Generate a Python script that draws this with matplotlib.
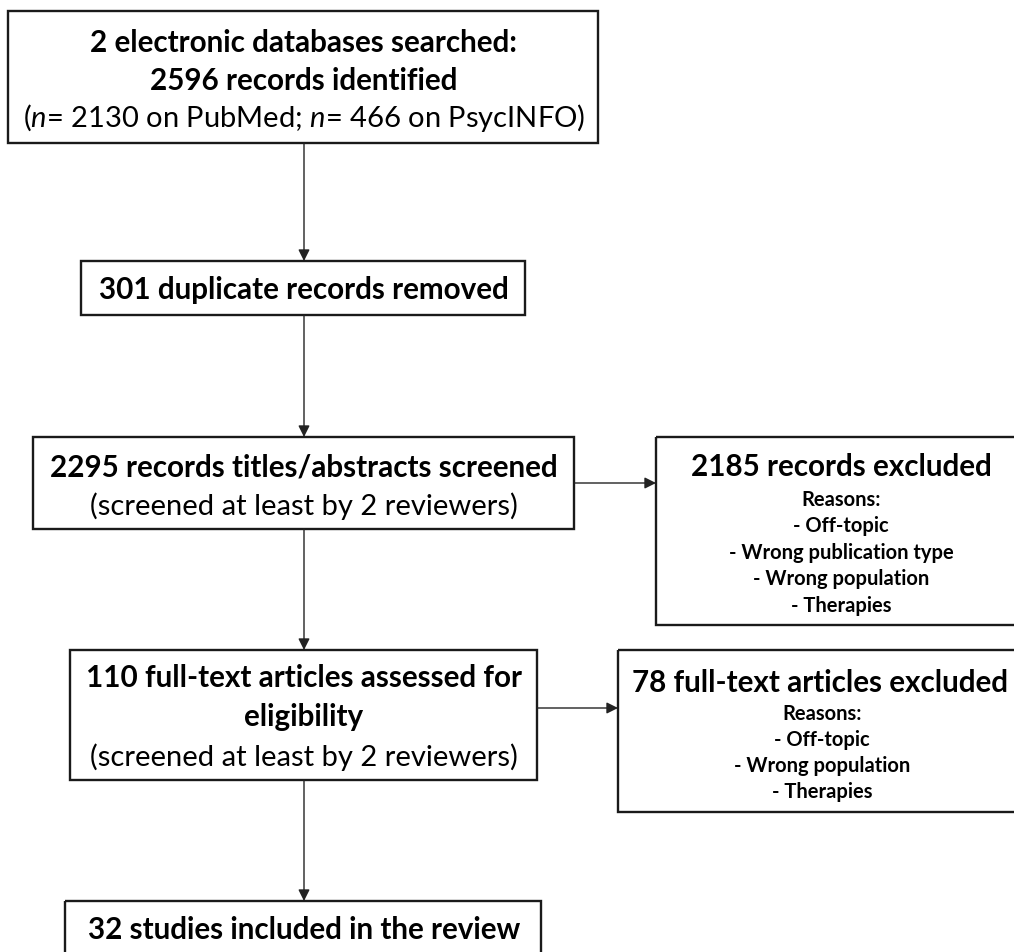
import matplotlib.pyplot as plt
from matplotlib.patches import Rectangle

plt.rcParams['font.family'] = ['Lato', 'DejaVu Sans']
plt.rcParams['mathtext.fontset'] = 'custom'
plt.rcParams['mathtext.rm'] = 'Lato'
plt.rcParams['mathtext.it'] = 'Lato:italic'

# box texts (title lines are bold, sub lines regular)
search_title = ["2 electronic databases searched:", "2596 records identified"]
search_sub = r"($\mathit{n}$= 2130 on PubMed; $\mathit{n}$= 466 on PsycINFO)"
dup_title = "301 duplicate records removed"
screen_title = "2295 records titles/abstracts screened"
screen_sub = "(screened at least by 2 reviewers)"
excl1_title = "2185 records excluded"
excl1_reasons = ["Reasons:", "- Off-topic", "- Wrong publication type",
                 "- Wrong population", "- Therapies"]
full_title = ["110 full-text articles assessed for", "eligibility"]
full_sub = "(screened at least by 2 reviewers)"
excl2_title = "78 full-text articles excluded"
excl2_reasons = ["Reasons:", "- Off-topic", "- Wrong population", "- Therapies"]
incl_title = "32 studies included in the review"

W, H = 1014, 953
fig = plt.figure(figsize=(W / 100, H / 100), dpi=100)
ax = fig.add_axes([0, 0, 1, 1])
ax.set_xlim(0, W)
ax.set_ylim(H, 0)
ax.axis("off")

BIG = 21.3
REG = 21
SMALL = 14.5


def box(x0, y0, x1, y1):
    ax.add_patch(Rectangle((x0, y0), x1 - x0, y1 - y0, fill=False,
                           edgecolor="#1a1a1a", lw=1.7, clip_on=True))


def arrow(x0, y0, x1, y1):
    ax.annotate("", xy=(x1, y1), xytext=(x0, y0),
                arrowprops=dict(arrowstyle="-|>", color="#222222", lw=1.0,
                                mutation_scale=17, shrinkA=0, shrinkB=0))


def txt(x, y, s, size=BIG, bold=True):
    ax.text(x, y, s, ha="center", va="center", fontsize=size,
            fontweight="bold" if bold else "normal", color="black")


cx = 304

# box 1
box(8, 12, 598, 144)
txt(cx, 43, search_title[0])
txt(cx, 81, search_title[1])
txt(cx, 118, search_sub, size=REG, bold=False)
arrow(cx, 144, cx, 262)

# box 2
box(81, 262, 525, 316)
txt(cx, 290, dup_title)
arrow(cx, 316, cx, 438)

# box 3
box(33, 438, 574, 530)
txt(cx, 468, screen_title)
txt(cx, 506, screen_sub, size=REG, bold=False)
arrow(574, 484, 656, 484)

# box 4
box(656, 438, 1030, 626)
txt(841, 467, excl1_title)
for i, r in enumerate(excl1_reasons):
    txt(841, 500 + i * 26.5, r, size=SMALL)
arrow(cx, 530, cx, 651)

# box 5
box(70, 651, 537, 781)
txt(cx, 678, full_title[0])
txt(cx, 717, full_title[1])
txt(cx, 757, full_sub, size=REG, bold=False)
arrow(537, 709, 618, 709)

# box 6
box(618, 651, 1030, 813)
txt(820, 683, excl2_title)
for i, r in enumerate(excl2_reasons):
    txt(822, 714 + i * 26, r, size=SMALL)
arrow(cx, 781, cx, 902)

# box 7
box(65, 902, 541, 980)
txt(cx, 930, incl_title)

fig.savefig("out.png", dpi=100)
